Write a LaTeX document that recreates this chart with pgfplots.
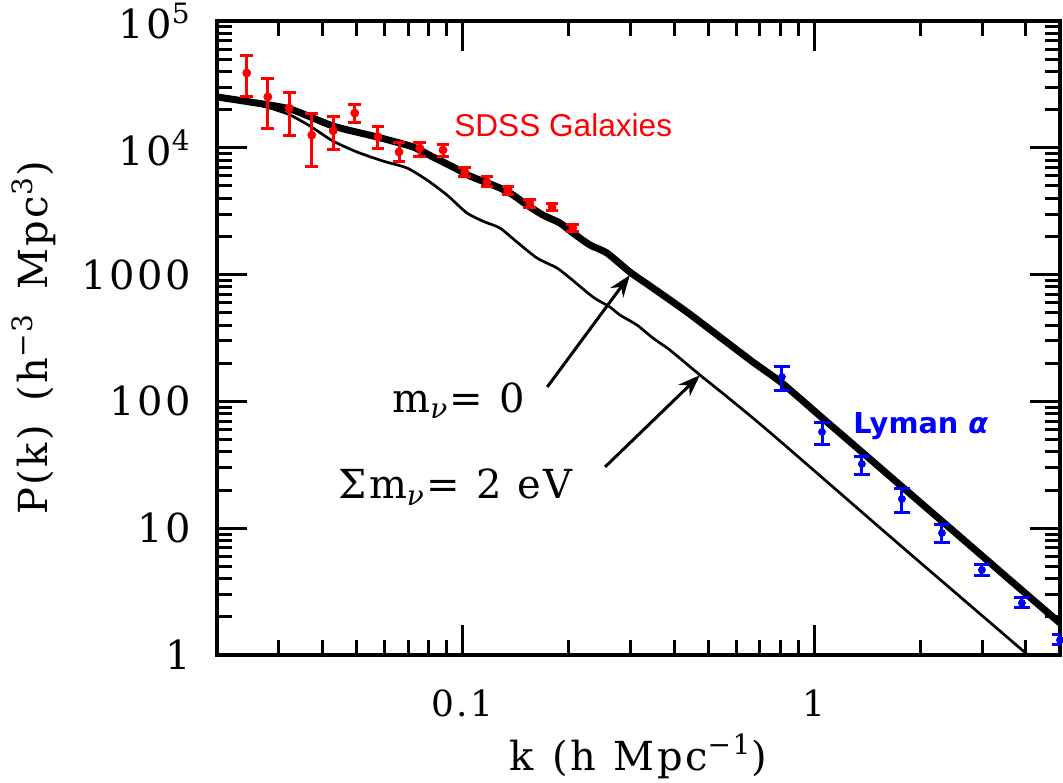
\documentclass[border=0pt]{standalone}
\usepackage{fontspec}
\setmainfont{DejaVu Serif}
\newfontfamily\sm[LetterSpace=6]{DejaVu Serif}
\newfontfamily\helv{Liberation Sans}
\newfontfamily\dvs{DejaVu Sans}
\usepackage{pgfplots}
\pgfplotsset{compat=1.18}
\usepackage{pgfplotstable}
\usetikzlibrary{arrows.meta}

\pgfplotstableread{
k P
0.0200 25160
0.02482 22980
0.03226 20230
0.04274 14860
0.05704 12170
0.07222 10150
0.08228 8461
0.09380 7057
0.1048 5993
0.1156 5375
0.1276 4819
0.1390 4245
0.1523 3539
0.1691 2951
0.1890 2553
0.2058 2129
0.2301 1712
0.2572 1480
0.2989 1048
0.3475 784
0.4343 507
0.5391 322
0.6690 204.5
0.8089 139.7
1.051 74.6
1.366 39.9
1.775 21.29
2.307 11.38
2.998 6.07
3.895 3.24
4.996 1.79
}\thicktab

\pgfplotstableread{
k P
0.0200 25160
0.02482 22560
0.02829 20600
0.03226 18150
0.03676 14860
0.04274 11310
0.05003 9265
0.05931 7867
0.06943 6930
0.07912 5574
0.09020 4245
0.1028 3060
0.1156 2599
0.1276 2331
0.1426 1807
0.1626 1352
0.1854 1127
0.2018 940
0.2346 666
0.2622 555
0.2800 480
0.3130 400.5
0.3475 316
0.3886 254
0.4728 161.6
0.5391 120.8
0.6690 73.97
0.8359 43.7
1.752 7.37
4.052 1.0
4.996 0.601
}\thintab

\pgfplotstableread{
k P ep em
0.0243 38900 14100 13700
0.0279 25200 9700 10900
0.0321 20600 6900 8200
0.0372 12600 5900 5420
0.0428 13600 4200 3990
0.0493 18800 3000 3100
0.0574 12200 2400 2240
0.0659 9270 1830 1540
0.0755 9960 1150 1345
0.0879 9610 1100 995
0.1014 6440 617 554
0.1172 5375 511 467
0.1346 4648 348 327
0.1552 3670 277 257
0.1795 3413 192 181
0.2055 2331 175 163
}\sdss

\pgfplotstableread{
k P ep em
0.809 156 34 33
1.052 57.4 11.4 11.3
1.366 32.1 5.0 5.8
1.776 17.0 3.4 3.6
2.308 9.16 1.44 1.38
2.998 4.68 0.45 0.48
3.896 2.57 0.25 0.18
5.0 1.31 0.13 0.11
}\lya

\begin{document}
\begin{tikzpicture}
\begin{axis}[
  scale only axis, width=421.5pt, height=317pt,
  xmode=log, ymode=log,
  xmin=0.02, xmax=5, ymin=1, ymax=1e5,
  axis line style={line width=1.7pt},
  tick align=inside, xtick pos=both, ytick pos=both,
  xtick={0.1,1}, xticklabels={0.1,1},
  minor xtick={0.02,0.03,0.04,0.05,0.06,0.07,0.08,0.09,0.2,0.3,0.4,0.5,0.6,0.7,0.8,0.9,2,3,4,5},
  ytick={1,10,100,1000,10000,100000},
  yticklabels={1,10,100,1000,10\textsuperscript{4},10\textsuperscript{5}},
  minor ytick={2,3,4,5,6,7,8,9,20,30,40,50,60,70,80,90,200,300,400,500,600,700,800,900,2000,3000,4000,5000,6000,7000,8000,9000,20000,30000,40000,50000,60000,70000,80000,90000},
  major tick length=15pt, minor tick length=7.5pt,
  major tick style={line width=1.5pt, black},
  minor tick style={line width=1.5pt, black},
  xticklabel style={font=\sm\fontsize{18}{20}\selectfont, inner sep=0pt, anchor=north, yshift=-17pt},
  yticklabel style={font=\sm\fontsize{20}{22}\selectfont, inner sep=0pt, anchor=east, xshift=-13pt},
  xlabel={k\hspace{0.45em}(h\hspace{0.45em}Mpc\textsuperscript{−1})},
  ylabel={P(k)\hspace{0.6em}(h\textsuperscript{−3}\hspace{0.6em}Mpc\textsuperscript{3})},
  every axis x label/.style={at={([yshift=-57.5pt]axis description cs:0.5,0)}, anchor=base, font=\sm\fontsize{20}{22}\selectfont, inner sep=0pt},
  every axis y label/.style={at={([xshift=-84.5pt]axis description cs:0,0.5)}, rotate=90, anchor=base, font=\sm\fontsize{20}{22}\selectfont, inner sep=0pt},
  clip=true,
]
\addplot[black, line width=1.35pt, line join=round, smooth, tension=0.4] table[x=k,y=P] {\thintab};
\addplot[black, line width=3.5pt, line join=round, smooth, tension=0.4] table[x=k,y=P] {\thicktab};

\addplot[red, only marks, mark=*, mark size=2pt,
  error bars/.cd, y dir=both, y explicit,
  error bar style={line width=1.5pt, red},
  error mark options={rotate=90, red, line width=1.5pt, mark size=3.2pt}]
  table[x=k, y=P, y error plus=ep, y error minus=em] {\sdss};

\addplot[blue, only marks, mark=*, mark size=1.75pt,
  error bars/.cd, y dir=both, y explicit,
  error bar style={line width=1.5pt, blue},
  error mark options={rotate=90, blue, line width=1.5pt, mark size=3.9pt}]
  table[x=k, y=P, y error plus=ep, y error minus=em] {\lya};

\draw[line width=1.5pt, -{Stealth[length=11pt, width=8pt]}] (axis cs:0.174,130) -- (axis cs:0.299,993);
\draw[line width=1.5pt, -{Stealth[length=11pt, width=8pt]}] (axis cs:0.254,30.4) -- (axis cs:0.473,161);

\node[anchor=base west, inner sep=0pt, text=red, font=\helv\fontsize{15.8}{18}\selectfont] at (axis cs:0.0944,12170) {SDSS Galaxies};
\node[anchor=base west, inner sep=0pt, text=blue, font=\dvs\bfseries\fontsize{14.4}{17}\selectfont] at (axis cs:1.288,56.3) {Lyman \textit{α}};
\node[anchor=base west, inner sep=0pt, font=\sm\fontsize{20}{22}\selectfont] at (axis cs:0.0629,82.5) {m\textsubscript{\textit{ν}}=\hspace{0.4em}0};
\node[anchor=base west, inner sep=0pt, font=\sm\fontsize{20}{22}\selectfont] at (axis cs:0.04417,17.0) {Σm\textsubscript{\textit{ν}}=\hspace{0.4em}2\hspace{0.4em}eV};
\end{axis}
\pgfresetboundingbox
\path[use as bounding box] ([shift={(-108.5pt,-63.5pt)}]current axis.south west) rectangle ([shift={(1.5pt,10.5pt)}]current axis.north east);
\end{tikzpicture}
\end{document}
